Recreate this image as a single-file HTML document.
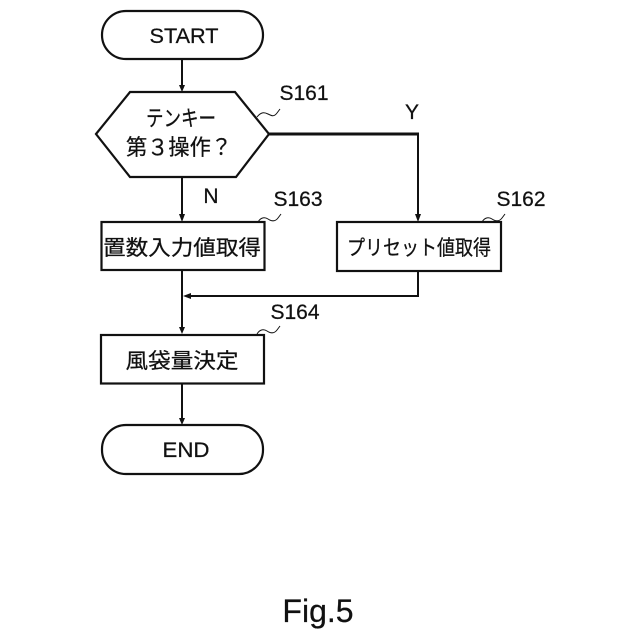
<!DOCTYPE html>
<html><head><meta charset="utf-8"><style>
html,body{margin:0;padding:0;background:#fff}
svg{display:block}
text{font-family:"Liberation Sans","Noto Sans CJK JP",sans-serif;fill:#111;stroke:#111;stroke-width:.25}
</style></head><body>
<svg width="640" height="640" viewBox="0 0 640 640" xmlns="http://www.w3.org/2000/svg">
<g fill="none" stroke="#111" stroke-width="2.200">
<rect x="102" y="11" width="161" height="48" rx="24" ry="24"/>
<polygon points="96,134 130,92 235,92 269,134 236,177 130,177"/>
<rect x="101.500" y="222" width="163" height="48"/>
<rect x="337" y="222" width="164" height="49"/>
<rect x="101" y="335" width="163" height="48.500"/>
<rect x="102" y="425" width="161" height="49" rx="24" ry="24"/>
<path d="M182 60V88M182 177V218M182 270V330M182 384V421M418 134V218M418 271V296H190" stroke-width="2"/>
<path d="M269 134H419" stroke-width="3"/>
<g stroke-width="1">
<path d="M257 117c4-5 7-5 11-3s6 3 9-1l3-4"/>
<path d="M258 222c3-5 7-5 10-3s7 3 10-1l3-4"/>
<path d="M482 222c3-5 7-5 10-3s7 3 10-1l3-4"/>
<path d="M257 334c3-5 7-5 10-3s7 3 10-1l3-4"/>
</g>
</g>
<g fill="#111">
<polygon points="179,85 185,85 182,92"/>
<polygon points="179,214 185,214 182,222"/>
<polygon points="415,214 421,214 418,222"/>
<polygon points="179,327 185,327 182,334"/>
<polygon points="179,418 185,418 182,425"/>
<polygon points="183,296 191,293 191,299"/>
</g>
<g font-size="21" text-anchor="middle">
<text x="184" y="43" textLength="69" lengthAdjust="spacingAndGlyphs">START</text>
<text x="186" y="457" textLength="47" lengthAdjust="spacingAndGlyphs">END</text>
<text x="181" y="126" font-size="22" textLength="70" lengthAdjust="spacingAndGlyphs">テンキー</text>
<text x="179" y="155" font-size="22" textLength="106" lengthAdjust="spacingAndGlyphs">第３操作？</text>
<text x="182" y="255" textLength="158" lengthAdjust="spacingAndGlyphs">置数入力値取得</text>
<text x="419" y="255" textLength="144" lengthAdjust="spacingAndGlyphs">プリセット値取得</text>
<text x="182" y="368" textLength="113" lengthAdjust="spacingAndGlyphs">風袋量決定</text>
<text x="304" y="100">S161</text>
<text x="298" y="206">S163</text>
<text x="521" y="206">S162</text>
<text x="295" y="319">S164</text>
<text x="211" y="203">N</text>
<text x="412" y="119">Y</text>
</g>
<text x="318" y="622" font-size="32" text-anchor="middle">Fig.5</text>
</svg>
</body></html>
